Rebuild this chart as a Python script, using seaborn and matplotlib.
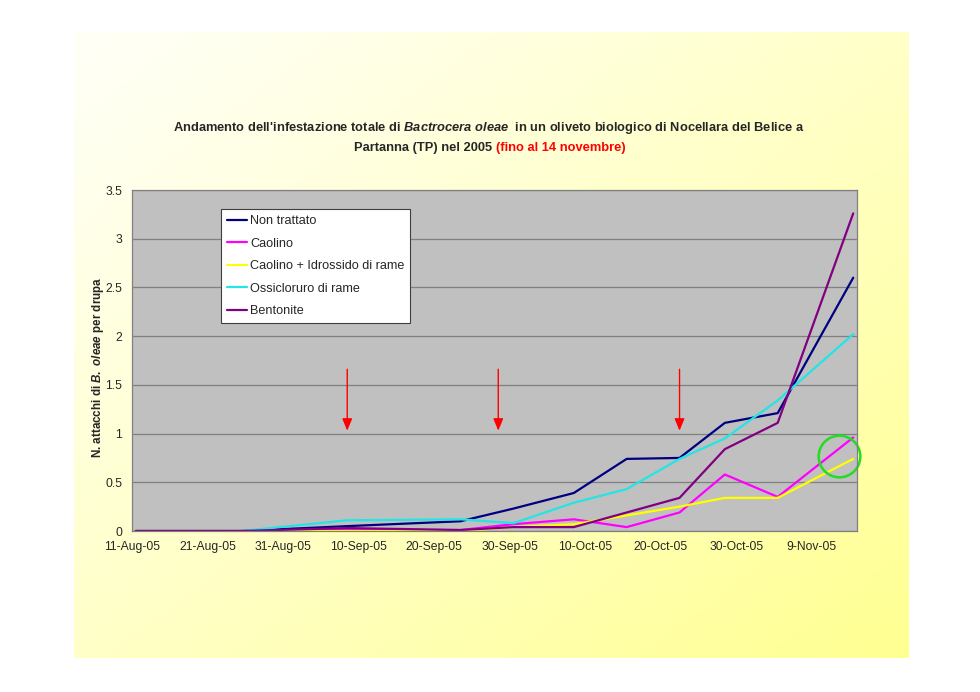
import numpy as np
import pandas as pd
import matplotlib
matplotlib.use('Agg')
from matplotlib import pyplot as plt
from matplotlib import font_manager as fm
import seaborn as sns

# sampling dates and attacks per drupe
dates = ['2005-08-11', '2005-08-25', '2005-09-08', '2005-09-23', '2005-09-30', '2005-10-08',
         '2005-10-15', '2005-10-22', '2005-10-28', '2005-11-04', '2005-11-14']
non_trattato = [0, 0, 0.05, 0.10, 0.23, 0.39, 0.74, 0.75, 1.11, 1.21, 2.60]
caolino = [0, 0, 0.01, 0.01, 0.07, 0.12, 0.04, 0.19, 0.58, 0.35, 0.96]
caolino_idrossido = [0, 0, 0.0, 0.0, 0.04, 0.07, 0.16, 0.25, 0.34, 0.34, 0.74]
ossicloruro = [0, 0, 0.11, 0.12, 0.08, 0.29, 0.43, 0.74, 0.95, 1.34, 2.02]
bentonite = [0, 0, 0.03, 0.01, 0.04, 0.04, 0.19, 0.34, 0.84, 1.11, 3.26]

series_names = ['Non trattato', 'Caolino', 'Caolino + Idrossido di rame', 'Ossicloruro di rame', 'Bentonite']
series_values = [non_trattato, caolino, caolino_idrossido, ossicloruro, bentonite]
colors = ['#000080', '#FF00FF', '#FFFF00', '#22E5E5', '#800080']

treatment_dates = ['2005-09-08', '2005-09-28', '2005-10-22']
highlight_date = '2005-11-12 14:00'
highlight_value = 0.77

# excel puts the points in the middle of the day
half_day = pd.Timedelta(hours=12)

rows = []
for name, vals in zip(series_names, series_values):
    for d, v in zip(dates, vals):
        rows.append({'data': pd.Timestamp(d) + half_day, 'valore': v, 'serie': name})
df = pd.DataFrame(rows)

sns.set_style('white')
available = {f.name for f in fm.fontManager.ttflist}
narrow = 'Liberation Sans Narrow' if 'Liberation Sans Narrow' in available else 'Liberation Sans'
plt.rcParams['font.family'] = ['Liberation Sans', 'DejaVu Sans']
plt.rcParams['mathtext.fontset'] = 'custom'
plt.rcParams['mathtext.it'] = narrow + ':italic:bold'
plt.rcParams['mathtext.rm'] = narrow + ':bold'

fig = plt.figure(figsize=(9.8, 6.92), dpi=100)
fig.patch.set_facecolor('white')

# yellow gradient panel behind the chart
bg = fig.add_axes([74 / 980, 1 - 658 / 692, (908 - 74) / 980, (658 - 32) / 692], zorder=0)
gx, gy = np.meshgrid(np.linspace(0, 1, 200), np.linspace(0, 1, 200))
t = np.clip((gx + gy) / 2, 0, 1) ** 1.1
grad = np.zeros((200, 200, 3))
grad[..., 0] = 1
grad[..., 1] = 1
grad[..., 2] = 0.97 - 0.4 * t
bg.imshow(grad, aspect='auto', extent=(0, 1, 1, 0))
bg.axis('off')

ax = fig.add_axes([132 / 980, 1 - 531 / 692, (857 - 132) / 980, (531 - 190) / 692], zorder=1)
ax.set_facecolor('#C0C0C0')

sns.lineplot(data=df, x='data', y='valore', hue='serie', hue_order=series_names,
             palette=dict(zip(series_names, colors)), linewidth=1.6, ax=ax)

ax.set_xlim(pd.Timestamp('2005-08-11'), pd.Timestamp('2005-11-15'))
ax.set_ylim(0, 3.5)
ticks = pd.date_range('2005-08-11', '2005-11-09', freq='10D')
ax.set_xticks(ticks)
ax.set_xticklabels([f"{d.day}-{d.strftime('%b-%y')}" for d in ticks], fontsize=8.7)
ax.set_yticks(np.arange(0, 3.51, 0.5))
ax.set_yticklabels(['0', '0.5', '1', '1.5', '2', '2.5', '3', '3.5'], fontsize=8.7)
ax.tick_params(axis='both', direction='out', length=4, width=0.8, color='#808080', pad=3)
ax.grid(axis='y', color='#808080', linewidth=0.9)
ax.grid(axis='x', visible=False)
for s in ax.spines.values():
    s.set_color('#808080')
    s.set_linewidth(0.9)

ax.set_xlabel('')
ax.set_ylabel('N. attacchi di $B.\\ oleae$ per drupa', fontsize=8.4, fontweight='bold')
ax.yaxis.set_label_coords(-0.036, 0.481)

# treatment arrows
for d in treatment_dates:
    x = pd.Timestamp(d) + half_day
    ax.annotate('', xy=(x, 1.03), xytext=(x, 1.66),
                arrowprops=dict(arrowstyle='-|>,head_width=0.25,head_length=0.6',
                                color='#FF0000', lw=1, mutation_scale=12, shrinkA=0, shrinkB=0))

# green circle around the last values
ax.plot([pd.Timestamp(highlight_date)], [highlight_value], marker='o', markersize=30,
        markerfacecolor='none', markeredgecolor='#22DD22', markeredgewidth=1.8, clip_on=False)

leg = ax.legend(loc='upper left', bbox_to_anchor=(0.123, 0.943), fontsize=9.1, frameon=True,
                fancybox=False, edgecolor='#404040', facecolor='white', framealpha=1,
                handlelength=1.6, handletextpad=0.25, labelspacing=0.83, borderpad=0.45,
                borderaxespad=0)
leg.get_frame().set_linewidth(0.8)
for line in leg.get_lines():
    line.set_linewidth(1.6)

# title, second line partly in red
title_kw = dict(fontsize=9.25, fontweight='bold', family=[narrow, 'DejaVu Sans'])
fig.text(489 / 980, 1 - 128 / 692,
         "Andamento dell'infestazione totale di $Bactrocera\\ oleae$  in un oliveto biologico di Nocellara del Belice a",
         ha='center', va='center', **title_kw)
t1 = fig.text(0, 1 - 148 / 692, 'Partanna (TP) nel 2005 ', ha='left', va='center', **title_kw)
t2 = fig.text(0, 1 - 148 / 692, '(fino al 14 novembre)', ha='left', va='center', color='#FF0000', **title_kw)
fig.canvas.draw()
r = fig.canvas.get_renderer()
w1 = t1.get_window_extent(r).width / fig.bbox.width
w2 = t2.get_window_extent(r).width / fig.bbox.width
x0 = 490 / 980 - (w1 + w2) / 2
t1.set_x(x0)
t2.set_x(x0 + w1)

fig.savefig('out.png', dpi=100)
